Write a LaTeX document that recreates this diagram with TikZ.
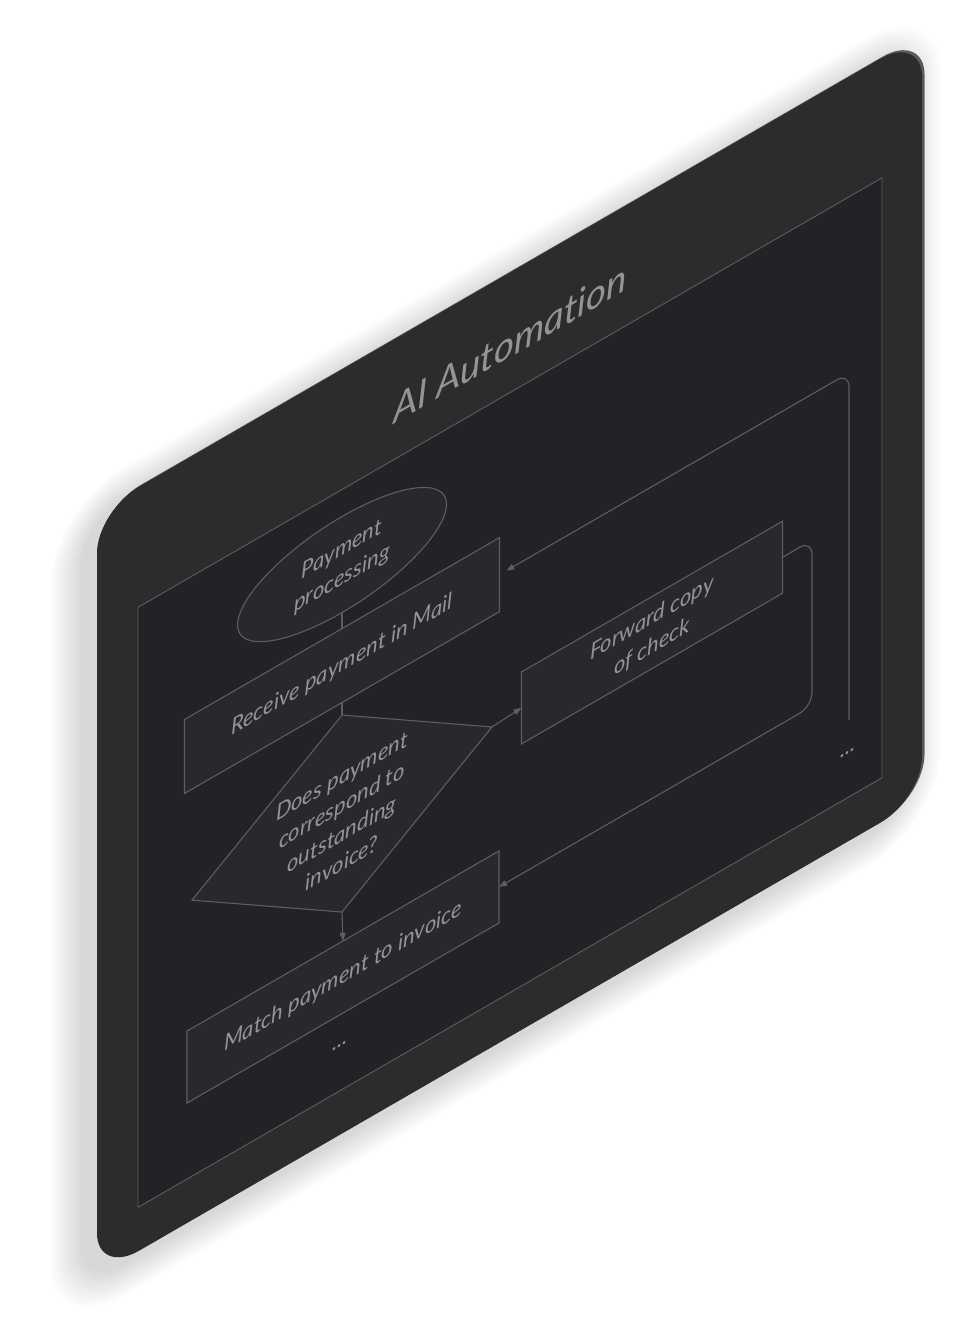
\documentclass[tikz,border=0pt]{standalone}
\usepackage{fontspec}
\setmainfont{Lato}[Ligatures=NoCommon]
\usetikzlibrary{shapes.geometric,arrows.meta}
\definecolor{panelc}{HTML}{2B2C2C}
\definecolor{innerc}{HTML}{222327}
\definecolor{boxc}{HTML}{28292C}
\definecolor{linec}{HTML}{5E5E60}
\definecolor{textc}{HTML}{949494}
\definecolor{rimc}{HTML}{5A5B5B}
\newcommand\panelrect[6]{%
 \pgfmathsetmacro\prA{#2}\pgfmathsetmacro\prB{#3}\pgfmathsetmacro\prC{#4}\pgfmathsetmacro\prD{#5}\pgfmathsetmacro\prR{#6}\pgfmathsetmacro\prK{0.4477*\prR}%
 \path[#1] ({\prA+\prR},\prB) -- ({\prC-\prR},\prB) .. controls ({\prC-\prK},\prB) and (\prC,{\prB+\prK}) .. (\prC,{\prB+\prR}) -- (\prC,{\prD-\prR}) .. controls (\prC,{\prD-\prK}) and ({\prC-\prK},\prD) .. ({\prC-\prR},\prD) -- ({\prA+\prR},\prD) .. controls ({\prA+\prK},\prD) and (\prA,{\prD-\prK}) .. (\prA,{\prD-\prR}) -- (\prA,{\prB+\prR}) .. controls (\prA,{\prB+\prK}) and ({\prA+\prK},\prB) .. ({\prA+\prR},\prB) -- cycle;}
\begin{document}
\begin{tikzpicture}[x=1pt,y=1pt,
  conn/.style={draw=linec, line width=1.1pt},
  arr/.style={conn, -{Triangle[length=8pt,width=6pt]}},
  boxs/.style={draw=linec, fill=boxc, line width=1.1pt, transform shape, inner sep=0pt, outer sep=0pt},
  txt/.style={text=textc, align=center, inner sep=0pt, font=\itshape\fontsize{22}{29}\selectfont, transform shape},
]
\useasboundingbox (0,0) rectangle (956,-1335);
\fill[white] (0,0) rectangle (956,-1335);
\begin{scope}[cm={1,0.57735,0,1,(0,0)}]
  % shadow
  \foreach \i in {1,...,13}{\panelrect{fill=black,fill opacity=0.013}{97-2.5*\i-14}{-1331-2.5*\i-4}{922+2.5*\i-14}{-567+2.5*\i-4}{42+2.5*\i}}
  % rim and panel
  \panelrect{fill=rimc}{99}{-1330.2}{924.5}{-566.2}{42}
  \panelrect{fill=panelc}{97}{-1331}{922}{-567}{42}
  % inner frame
  \filldraw[draw=linec, line width=0.9pt, fill=innerc] (138,-687) -- (882,-687) -- (882,-1287) -- (138,-1287) -- cycle;
  % nodes
  \node[boxs, ellipse, minimum width=209pt, minimum height=96pt] (pp) at (342,-762) {};
  \node[boxs, rectangle, minimum width=315pt, minimum height=74pt] (recv) at (342,-863) {};
  \node[boxs, diamond, minimum width=300pt, minimum height=197pt] (dec) at (342,-1011) {};
  \node[boxs, rectangle, minimum width=261pt, minimum height=72pt] (fwd) at (652,-1009) {};
  \node[boxs, rectangle, minimum width=312pt, minimum height=72pt] (match) at (343,-1175) {};
  \coordinate (fa) at (812,-1009);
  \coordinate (fb) at (812,-1175);
  \coordinate (rs) at (849,-1210);
  \coordinate (ra) at (849,-863);
  % connectors
  \draw[conn] (pp.south) -- (recv.north);
  \draw[conn] (recv.south) -- (dec.north);
  \draw[arr] (dec.east) -- (fwd.west);
  \draw[arr] (dec.south) -- (match.north);
  \draw[arr, rounded corners=14pt] (fwd.east) -- (fa) -- (fb) -- (match.east);
  \draw[arr, rounded corners=14pt, shorten >=8pt] (rs) -- (ra) -- (recv.east);
  % texts
  \node[txt, font=\itshape\fontsize{38.5}{46}\selectfont] (title) at (510,-638) {AI Automation};
  \node[txt] (ppT) at (pp.center) {Payment\\processing};
  \node[txt] (recvT) at (recv.center) {Receive payment in Mail};
  \node[txt] (decT) at (342,-1017) {Does payment\\correspond to\\outstanding\\invoice?};
  \node[txt] (fwdT) at (fwd.center) {Forward copy\\of check};
  \node[txt] (matchT) at (match.center) {Match payment to invoice};
  \node[txt] (dotsM) at (340,-1242) {...};
  \node[txt] (dotsR) at (848,-1242) {...};
\end{scope}
\end{tikzpicture}
\end{document}
